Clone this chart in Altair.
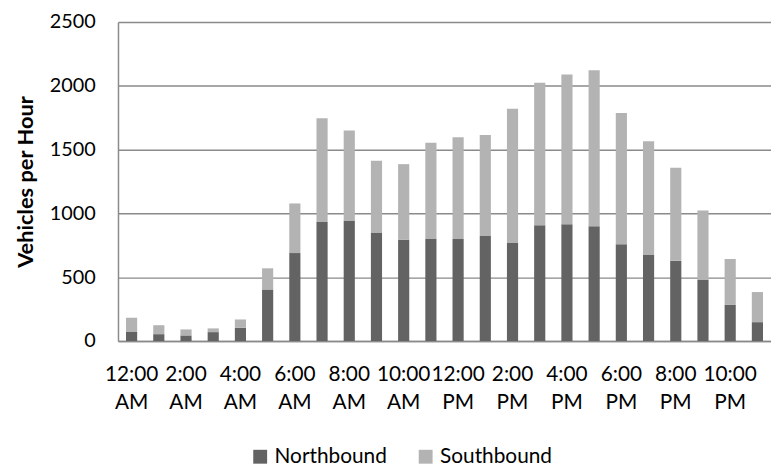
import altair as alt
import pandas as pd

hours = ["12:00 AM", "1:00 AM", "2:00 AM", "3:00 AM", "4:00 AM", "5:00 AM",
         "6:00 AM", "7:00 AM", "8:00 AM", "9:00 AM", "10:00 AM", "11:00 AM",
         "12:00 PM", "1:00 PM", "2:00 PM", "3:00 PM", "4:00 PM", "5:00 PM",
         "6:00 PM", "7:00 PM", "8:00 PM", "9:00 PM", "10:00 PM", "11:00 PM"]
northbound = [70, 54, 44, 70, 104, 404, 689, 933, 940, 850, 793, 800,
              800, 824, 769, 907, 915, 899, 759, 674, 629, 482, 283, 148]
southbound = [112, 70, 47, 29, 65, 166, 389, 813, 710, 562, 593, 754,
              796, 790, 1052, 1116, 1173, 1223, 1028, 891, 729, 541, 360, 236]
series = ["Northbound", "Southbound"]
y_ticks = [0, 500, 1000, 1500, 2000, 2500]
shown_hours = hours[::2]

rows = []
for h, n, s in zip(hours, northbound, southbound):
    rows.append({"hour": h, "dir": series[0], "ord": 0, "v": n})
    rows.append({"hour": h, "dir": series[1], "ord": 1, "v": s})
df = pd.DataFrame(rows)

grid_col = "#8a8a8a"

chart = alt.Chart(df).mark_bar().encode(
    x=alt.X("hour:N", sort=hours, title=None,
            scale=alt.Scale(paddingInner=0.59, paddingOuter=0.295),
            axis=alt.Axis(values=shown_hours, labelExpr="split(datum.value, ' ')",
                          labelAngle=0, labelLineHeight=28, labelPadding=23,
                          labelBaseline="top", labelOverlap=False, labelBound=False,
                          labelFlush=False, ticks=False, tickSize=0,
                          domainColor=grid_col, domainWidth=1.5,
                          labelFontSize=21, labelColor="#000000")),
    y=alt.Y("v:Q", stack="zero", title="Vehicles per Hour",
            scale=alt.Scale(domain=[0, 2500], nice=False),
            axis=alt.Axis(values=y_ticks, format="d", grid=True, gridColor=grid_col, gridWidth=1.5,
                          domainColor=grid_col, domainWidth=1.5, ticks=False, tickSize=0,
                          labelPadding=23, labelFontSize=20, labelColor="#000000",
                          labelBaseline="middle",
                          titleFontSize=22, titleFontWeight="bold", titleColor="#000000",
                          titleX=-93, titleY=161, titleBaseline="middle",
                          titleAngle=270, titleAlign="center")),
    color=alt.Color("dir:N", scale=alt.Scale(domain=series, range=["#636363", "#b3b3b3"]),
                    legend=alt.Legend(title=None, orient="none", direction="horizontal",
                                      legendX=133, legendY=428, symbolType="square",
                                      symbolSize=196, symbolStrokeWidth=0,
                                      labelFontSize=21, labelColor="#000000",
                                      labelOffset=4, columnPadding=28, padding=0)),
    order=alt.Order("ord:Q", sort="ascending"),
).properties(
    width=659, height=322,
    autosize=alt.AutoSizeParams(type="none"),
    padding={"left": 111, "top": 12, "right": 0, "bottom": 124},
).configure(
    font="Lato",
    background="white",
).configure_view(stroke=None)

chart.save("out.html", embed_options={"renderer": "svg", "actions": False})
